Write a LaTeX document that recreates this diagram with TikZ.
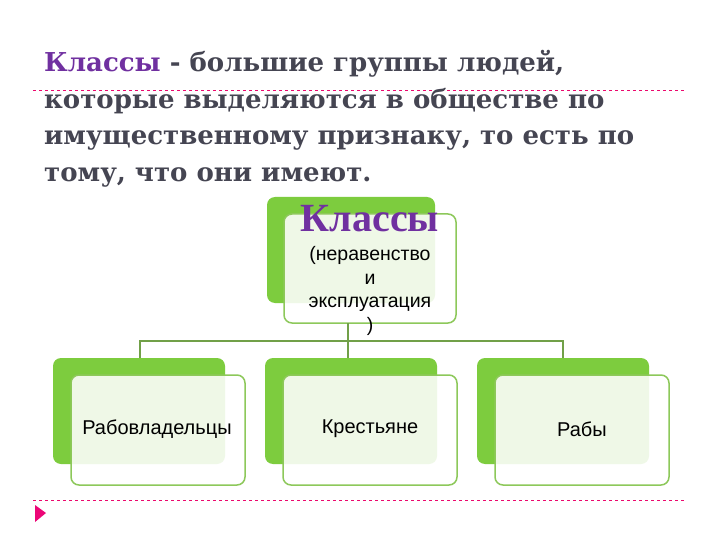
\documentclass[tikz,border=0pt]{standalone}
\usepackage{fontspec}
\setmainfont{DejaVu Serif}
\newfontfamily\arialf{Liberation Sans}
\newfontfamily\timesf{Liberation Serif}
\begin{document}
\begin{tikzpicture}[x=1pt,y=-1pt,
  front/.style={line width=1.5pt, fill=white, fill opacity=0.88, rounded corners=8pt},
  conn/.style={line width=1.2pt},
  sep/.style={draw=magenta!70!red, dashed, line width=0.5pt},
  lbl/.style={font=\arialf\fontsize{20}{23}\selectfont, text=black, align=center}]
\definecolor{gb}{HTML}{7DCC3E}
\definecolor{gf}{HTML}{8DC85A}
\definecolor{ttl}{HTML}{454552}
\definecolor{pur}{HTML}{7030A0}
\useasboundingbox (0,0) rectangle (720,540);
\fill[white] (0,0) rectangle (720,540);
\draw[sep] (33,90) -- (686,90);
\draw[sep] (33,500) -- (686,500);
\fill[magenta!80!red] (35,505) -- (46,513) -- (35,522) -- cycle;
\node[anchor=north west, align=left, inner sep=0, text=ttl,
  font=\bfseries\fontsize{26}{36.7}\selectfont] (title) at (44,50)
  {\textcolor{pur}{Классы} - большие группы людей,\\которые выделяются в обществе по\\имущественному признаку, то есть по\\тому, что они имеют.};
% top
\fill[gb, rounded corners=8pt] (267,197) rectangle (435,303);
\draw[front, draw=gf] (284,214) rectangle (456,323);
\node[font=\timesf\bfseries\fontsize{40}{42}\selectfont, text=pur] (top) at (370,219) {Классы};
\node[lbl, text width=170, align=center, font=\arialf\fontsize{19.5}{23.5}\selectfont] (toptxt) at (370,291) {(неравенство\\и\\эксплуатация\\)};
\coordinate (tb) at (348,323);
\coordinate (hm) at (348,341);
% bottom boxes
\foreach \x/\n/\t/\c in {53/a/Рабовладельцы/157,265/b/Крестьяне/370,477/c/Рабы/582}{
  \fill[gb, rounded corners=8pt] (\x,358) rectangle ++(172,106);
  \draw[front, draw=gf] (\x+18,375) rectangle ++(174,110);
  \node[lbl] (\n) at (\c,429) {\t};
}
\coordinate (at) at (140,358);
\coordinate (bt) at (348,358);
\coordinate (ct) at (563,358);
\draw[conn, draw=gf!80!black] (tb) -- (hm);
\draw[conn, draw=gf!80!black] (at) -- ++(0,-17) -| (ct);
\draw[conn, draw=gf!80!black] (hm) -- (bt);
\end{tikzpicture}
\end{document}
